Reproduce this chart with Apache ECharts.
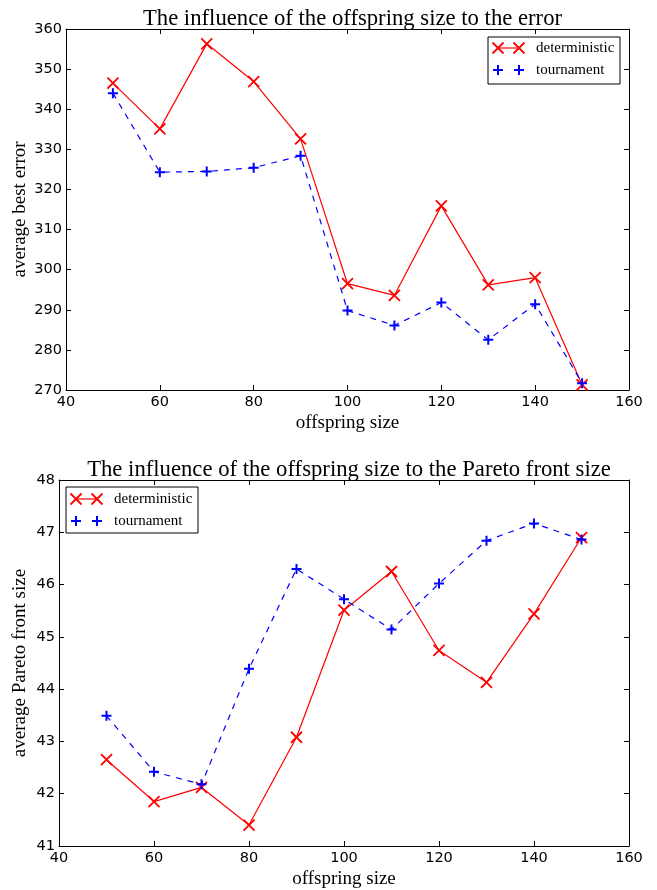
<!DOCTYPE html>
<html>
<head>
<meta charset="utf-8">
<script src="https://cdn.jsdelivr.net/npm/echarts@6/dist/echarts.min.js"></script>
<style>
  html, body { margin: 0; padding: 0; background: #fff; }
  #chart { width: 657px; height: 890px; }
</style>
</head>
<body>
<div id="chart"></div>
<script>
// Offspring sizes tested
const offspringSizes = [50, 60, 70, 80, 90, 100, 110, 120, 130, 140, 150];

// Average best error per selection scheme
const errorDeterministic = [346.5, 335.1, 356.3, 346.9, 332.6, 296.5, 293.6, 315.9, 296.2, 298.0, 271.3];
const errorTournament    = [344.0, 324.3, 324.5, 325.4, 328.4, 289.8, 286.1, 291.8, 282.5, 291.4, 271.7];

// Average Pareto front size per selection scheme
const paretoDeterministic = [42.65, 41.85, 42.12, 41.40, 43.08, 45.51, 46.25, 44.74, 44.13, 45.44, 46.90];
const paretoTournament    = [43.49, 42.42, 42.18, 44.39, 46.30, 45.72, 45.14, 46.02, 46.84, 47.17, 46.86];

const seriesNames = ['deterministic', 'tournament'];
const chartTitles = [
  'The influence of the offspring size to the error',
  'The influence of the offspring size to the Pareto front size'
];
const xAxisName = 'offspring size';
const yAxisNames = ['average best error', 'average Pareto front size'];

const SERIF = '"Liberation Serif", "Times New Roman", serif';
const SANS = '"DejaVu Sans", sans-serif';
const RED = '#ff0000';
const BLUE = '#0000ff';

const CROSS = 'path://M0,0L10,10M10,0L0,10';
const PLUS = 'path://M5,0L5,10M0,5L10,5';

const grids = [
  { left: 66, right: 28, top: 29, height: 361 },
  { left: 59, right: 28, top: 480, height: 367 }
];
const yRanges = [
  { min: 270, max: 360, interval: 10 },
  { min: 41, max: 48, interval: 1 }
];

function pairs(ys) { return offspringSizes.map((x, i) => [x, ys[i]]); }

const tickStyle = { show: true, inside: true, length: 5, lineStyle: { color: '#000', width: 1 } };
const lineAx = { show: true, onZero: false, lineStyle: { color: '#000', width: 1 } };

const xAxes = [], yAxes = [];
grids.forEach((g, i) => {
  xAxes.push({
    type: 'value', gridIndex: i, min: 40, max: 160, interval: 20, position: 'bottom',
    name: xAxisName, nameLocation: 'middle', nameGap: 24, nameMoveOverlap: false,
    nameTextStyle: { fontFamily: SERIF, fontSize: 19, color: '#000' },
    axisLine: lineAx, axisTick: tickStyle,
    axisLabel: { fontFamily: SANS, fontSize: 14.5, color: '#000', margin: 5 },
    splitLine: { show: false }
  });
  xAxes.push({
    type: 'value', gridIndex: i, min: 40, max: 160, interval: 20, position: 'top',
    axisLine: lineAx, axisTick: tickStyle, axisLabel: { show: false }, splitLine: { show: false }
  });
  yAxes.push({
    type: 'value', gridIndex: i, min: yRanges[i].min, max: yRanges[i].max, interval: yRanges[i].interval,
    position: 'left',
    name: yAxisNames[i], nameLocation: 'middle', nameGap: i === 0 ? 36 : 29, nameMoveOverlap: false,
    nameTextStyle: { fontFamily: SERIF, fontSize: 19, color: '#000' },
    axisLine: lineAx, axisTick: tickStyle,
    axisLabel: { fontFamily: SANS, fontSize: 14.5, color: '#000', margin: 4 },
    splitLine: { show: false }
  });
  yAxes.push({
    type: 'value', gridIndex: i, min: yRanges[i].min, max: yRanges[i].max, interval: yRanges[i].interval,
    position: 'right',
    axisLine: lineAx, axisTick: tickStyle, axisLabel: { show: false }, splitLine: { show: false }
  });
});

function detSeries(gi, data) {
  return {
    name: seriesNames[0], type: 'line', xAxisIndex: gi * 2, yAxisIndex: gi * 2,
    data: pairs(data), symbol: CROSS, symbolSize: 11,
    lineStyle: { color: RED, width: 1.2 },
    itemStyle: { color: RED, borderColor: RED, borderWidth: 1.8 },
    emphasis: { disabled: true }, z: 3
  };
}
function tourSeries(gi, data) {
  return {
    name: seriesNames[1], type: 'line', xAxisIndex: gi * 2, yAxisIndex: gi * 2,
    data: pairs(data), symbol: PLUS, symbolSize: 10,
    lineStyle: { color: BLUE, width: 1.2, type: [6, 6] },
    itemStyle: { color: BLUE, borderColor: BLUE, borderWidth: 2 },
    emphasis: { disabled: true }, z: 4
  };
}

// Legend boxes drawn as graphics: sample line with two markers + label
function legendBox(x, y, w, h, rowYs) {
  const children = [{
    type: 'rect', shape: { x: x, y: y, width: w, height: h },
    style: { fill: '#fff', stroke: '#000', lineWidth: 1 }
  }];
  const mx0 = x + 10, mx1 = x + 31, tx = x + 48;
  const cols = [RED, BLUE];
  rowYs.forEach((ry, k) => {
    const c = cols[k];
    if (k === 0) {
      children.push({ type: 'line', shape: { x1: mx0, y1: ry, x2: mx1, y2: ry }, style: { stroke: c, lineWidth: 1.2 } });
      [mx0, mx1].forEach(cx => {
        children.push({ type: 'line', shape: { x1: cx - 5.5, y1: ry - 5.5, x2: cx + 5.5, y2: ry + 5.5 }, style: { stroke: c, lineWidth: 1.8 } });
        children.push({ type: 'line', shape: { x1: cx - 5.5, y1: ry + 5.5, x2: cx + 5.5, y2: ry - 5.5 }, style: { stroke: c, lineWidth: 1.8 } });
      });
    } else {
      [mx0, mx1].forEach(cx => {
        children.push({ type: 'line', shape: { x1: cx - 5, y1: ry, x2: cx + 5, y2: ry }, style: { stroke: c, lineWidth: 2 } });
        children.push({ type: 'line', shape: { x1: cx, y1: ry - 5, x2: cx, y2: ry + 5 }, style: { stroke: c, lineWidth: 2 } });
      });
    }
    children.push({
      type: 'text', x: tx, y: ry,
      style: { text: seriesNames[k], font: '15px ' + SERIF, fill: '#000', verticalAlign: 'middle', align: 'left' }
    });
  });
  return { type: 'group', children: children, z: 100 };
}

const chart = echarts.init(document.getElementById('chart'), null, { renderer: 'canvas' });
chart.setOption({
  animation: false,
  backgroundColor: '#fff',
  title: [
    { text: chartTitles[0], left: 347.5, top: 3, textAlign: 'center',
      textStyle: { fontFamily: SERIF, fontSize: 22.7, fontWeight: 'normal', color: '#000' } },
    { text: chartTitles[1], left: 344, top: 454, textAlign: 'center',
      textStyle: { fontFamily: SERIF, fontSize: 22.7, fontWeight: 'normal', color: '#000' } }
  ],
  grid: grids.map(g => Object.assign({ show: false, containLabel: false }, g)),
  xAxis: xAxes,
  yAxis: yAxes,
  series: [
    detSeries(0, errorDeterministic),
    tourSeries(0, errorTournament),
    detSeries(1, paretoDeterministic),
    tourSeries(1, paretoTournament)
  ],
  graphic: [
    legendBox(488, 37, 132, 47, [48, 70]),
    legendBox(66, 487, 132, 46, [499, 521])
  ]
});
</script>
</body>
</html>
